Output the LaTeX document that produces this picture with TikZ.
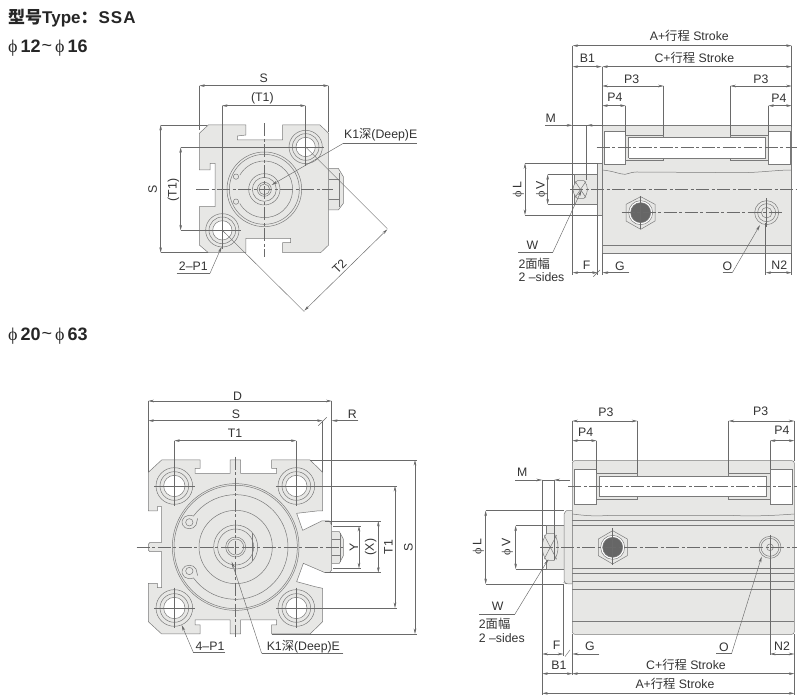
\documentclass[tikz,border=0pt]{standalone}
\usepackage{fontspec}
\setmainfont{Liberation Sans}
\newfontfamily\zhf{Noto Sans CJK SC}
\newfontfamily\phf{Liberation Serif}
\usetikzlibrary{arrows.meta}
\definecolor{ln}{HTML}{7A7A7A}
\definecolor{dl}{HTML}{6A6A6A}
\definecolor{bodyg}{HTML}{E7E7E5}
\definecolor{tx}{HTML}{333333}
\newcommand{\zh}[1]{{\zhf #1}}
\newcommand{\ph}{{\phf ϕ}}
\tikzset{
  thing/.style={draw=ln,line width=0.5pt},
  bodyf/.style={thing,fill=bodyg},
  whitef/.style={thing,fill=white},
  extl/.style={draw=dl,line width=0.4pt},
  diml/.style={draw=dl,line width=0.45pt,{Stealth[length=5.5pt,width=2.6pt]}-{Stealth[length=5.5pt,width=2.6pt]}},
  lead/.style={draw=dl,line width=0.45pt,-{Stealth[length=6pt,width=2.6pt]}},
  cline/.style={draw=dl,line width=0.4pt,dash pattern=on 13pt off 2.5pt on 3pt off 2.5pt},
  lab/.style={font=\fontsize{12.3}{14}\selectfont,text=tx,inner sep=0pt},
  lbl/.style={lab,rotate=90},
  head/.style={text=black!85,inner sep=0pt,anchor=west},
  z1/.style={shift={(130,60)},x=0.33333pt,y=-0.33333pt},
  z2/.style={shift={(500,20)},x=0.33333pt,y=-0.33333pt},
  z3/.style={shift={(130,385)},x=0.33333pt,y=-0.33333pt},
  z4/.style={shift={(470,400)},x=0.33333pt,y=-0.33333pt}
}
% mounting hole: centre, outer, mid, white radius
\newcommand{\mhole}[4]{
  \draw[thing] (#1) circle (#2);
  \draw[thing] (#1) circle (#3);
  \draw[whitef] (#1) circle (#4);
  \draw[extl] (#1) ++(-#2-6,0) -- ++(2*#2+12,0);
  \draw[extl] (#1) ++(0,-#2-6) -- ++(0,2*#2+12);
}
\newcommand{\sizelabel}[2]{{\fontsize{18}{18}\selectfont{\mdseries\ph}\kern3pt\bfseries #1\kern1pt\raisebox{0.5pt}{\mdseries\char`~}\kern3pt{\mdseries\ph}\kern3pt #2}}
\begin{document}
\begin{tikzpicture}[x=1pt,y=-1pt]
\useasboundingbox (0,0) rectangle (807,700);
\fill[white] (0,0) rectangle (807,700);
\node[head] (title) at (8,18) {\fontsize{17}{18}\bfseries\selectfont\zh{型号}Type\zh{：}\kern1pt S\kern1pt S\kern1pt A};
\node[head] (sizea) at (8,48) {\sizelabel{12}{16}};
\node[head] (sizeb) at (8,336) {\sizelabel{20}{63}};

%%%%%%%%%% top-left end view
\begin{scope}[z1]
\draw[bodyf] (596,325)--(625,325)--(640,350)--(640,430)--(625,450)--(596,450)--cycle;
\draw[thing] (596,358)--(628,358) (596,418)--(628,418) (628,340)--(628,440);
\draw[bodyf] (235,195)--(348,195)--(348,225)--(322,228)--(322,240)--(458,240)--(458,195)--(570,195)--(596,220)--(596,555)--(572,578)--(458,578)--(458,548)--(482,548)--(482,535)--(348,535)--(348,578)--(235,578)--(208,555)--(208,440)--(255,440)--(255,310)--(240,310)--(240,330)--(208,330)--(208,220)--cycle;
\mhole{527,261}{50}{40}{29}
\mhole{277,511}{50}{40}{29}
\draw[thing] (403,388) circle (112);
\draw[thing] (403,388) circle (105);
\draw[thing] (403,388) ++(150:85) arc (150:-150:85);
\draw[thing] (318,350) circle (8) (318,425) circle (8);
\draw[thing] (403,388) circle (47);
\draw[thing] (403,388) circle (36);
\draw[thing] (403,388) circle (21);
\draw[thing] (403,388) circle (16);
\draw[cline] (403,190)--(403,590);
\draw[cline] (198,388)--(610,388);
\draw[extl] (208,77)--(208,210) (596,77)--(596,215) (276,137)--(276,470) (527,137)--(527,315);
\draw[extl] (92,195)--(230,195) (92,578)--(235,578) (152,262)--(470,262) (152,511)--(330,511);
\draw[diml] (208,77)--(596,77);
\draw[diml] (276,137)--(527,137);
\draw[diml] (92,195)--(92,578);
\draw[diml] (152,262)--(152,511);
\draw[extl] (527,261)--(772,506) (277,511)--(523,755);
\draw[diml] (772,508)--(523,752);
\draw[extl] (860,250)--(640,250);
\draw[lead] (640,250)--(425,375);
\draw[extl] (140,640)--(240,640);
\draw[lead] (240,640)--(275,560);
\node[lab] (aS) at (401,54) {S};
\node[lab] (aT) at (397,115) {(T1)};
\node[lbl] (aSl) at (68,388) {S};
\node[lbl] (aTl) at (130,390) {(T1)};
\node[lab,rotate=45] (aT2) at (628,620) {T2};
\node[lab] (aK) at (752,225) {K1\zh{深}(Deep)E};
\node[lab] (aP) at (190,618) {2–P1};
\end{scope}

%%%%%%%%%% top-right side view
\begin{scope}[z2]
\draw[bodyf] (223,463) rectangle (293,553);
\draw[bodyf] (232,482) .. controls (214,500) and (214,516) .. (232,535) -- (252,535) .. controls (266,516) and (266,500) .. (252,482) -- cycle;
\draw[thing] (225,484)--(258,533) (258,484)--(225,533);
\draw[bodyf] (293,430) rectangle (307,585);
\draw[bodyf] (307,316) rectangle (875,700);
\draw[thing] (307,675)--(875,675);
\draw[whitef] (312,333) -- (376,333) -- (376,433) -- (312,433) -- cycle;
\draw[whitef] (805,333) -- (870,333) -- (870,433) -- (805,433) -- cycle;
\draw[bodyf] (376,345) rectangle (491,420);
\draw[bodyf] (691,345) rectangle (805,420);
\fill[white] (386,352) rectangle (797,415);
\draw[thing] (386,352)--(797,352) (386,415)--(797,415) (386,352)--(386,415) (797,352)--(797,415);
\draw[thing] (307,450) .. controls (340,453) and (360,463) .. (375,463) .. controls (385,463) and (390,456) .. (410,456) -- (720,458) .. controls (780,458) and (830,450) .. (875,450);
\draw[bodyf] (422,530) -- (465,553) -- (465,603) -- (422,628) -- (378,603) -- (378,553) -- cycle;
\draw[thing,fill=white] (422,578) circle (36);
\draw[thing,fill=black!60] (422,578) circle (30);
\draw[thing] (800,578) circle (36);
\draw[thing] (800,578) circle (27);
\draw[thing] (800,578) circle (16);
\draw[cline] (210,508)--(890,508);
\draw[cline] (290,382)--(890,382);
\draw[cline] (365,578)--(845,578);
\draw[extl] (422,528)--(422,628) (800,535)--(800,620);
% dimensions
\draw[extl] (218,77)--(218,765) (875,77)--(875,320) (307,140)--(307,320) (491,198)--(491,345) (691,198)--(691,345) (377,257)--(377,345) (805,257)--(805,345) (260,316)--(260,480);
\draw[diml] (218,77)--(875,77);
\draw[diml] (218,140)--(305,140);
\draw[diml] (307,140)--(875,140);
\draw[diml] (307,198)--(491,198);
\draw[diml] (691,198)--(875,198);
\draw[diml] (307,257)--(377,257);
\draw[diml] (805,257)--(875,257);
\draw[lead] (135,316)--(218,316);
\draw[lead] (287,316)--(260,316);
\draw[extl] (218,316)--(307,316);
\draw[extl] (75,430)--(293,430) (75,585)--(293,585) (143,463)--(223,463) (143,553)--(223,553);
\draw[diml] (75,430)--(75,585);
\draw[diml] (143,463)--(143,553);
\draw[extl] (55,698)--(158,698);
\draw[lead] (158,698)--(245,510);
\draw[extl] (293,585)--(293,765) (307,700)--(307,765) (875,700)--(875,765) (797,610)--(797,765);
\draw[diml] (218,758)--(293,758);
\draw[lead] (388,758)--(307,758);
\draw[diml] (797,758)--(875,758);
\draw[extl] (280,770)--(300,750);
\draw[extl] (668,758)--(697,758);
\draw[lead] (697,758)--(780,615);
\node[lab] (bA) at (568,47) {A+\zh{行程} Stroke};
\node[lab] (bC) at (583,113) {C+\zh{行程} Stroke};
\node[lab] (bB) at (262,115) {B1};
\node[lab] (bP3) at (395,177) {P3};
\node[lab] (bP3r) at (783,178) {P3};
\node[lab] (bP4) at (345,233) {P4};
\node[lab] (bP4r) at (837,235) {P4};
\node[lab] (bM) at (152,296) {M};
\node[lbl] (bL) at (55,508) {\ph\,L};
\node[lbl] (bV) at (125,508) {\ph\,V};
\node[lab] (bW) at (97,677) {W};
\node[lab,anchor=west] (bm) at (55,733) {2\zh{面幅}};
\node[lab,anchor=west] (bs) at (55,772) {2 –sides};
\node[lab] (bF) at (260,737) {F};
\node[lab] (bG) at (360,738) {G};
\node[lab] (bO) at (682,738) {O};
\node[lab] (bN) at (838,737) {N2};
\end{scope}

%%%%%%%%%% bottom-left end view
\begin{scope}[z3]
\draw[bodyf] (605,440) -- (628,440) -- (640,462) -- (640,512) -- (628,535) -- (605,535) -- cycle;
\draw[thing] (605,462)--(630,462) (605,512)--(630,512) (630,445)--(630,530);
\draw[bodyf] (95,225)--(210,225)--(210,250)--(195,250)--(195,265)--(300,265)--(300,225)--(332,225)--(332,265)--(440,265)--(440,250)--(425,250)--(425,225)--(540,225)--(578,262)--(578,378)--(560,378)--(500,385)--(518,436)--(575,408)--(598,408)--(605,420)--(605,555)--(598,563)--(585,563)--(520,535)--(500,590)--(555,605)--(578,610)--(578,710)--(540,747)--(425,747)--(425,720)--(440,720)--(440,705)--(332,705)--(332,747)--(300,747)--(300,705)--(195,705)--(195,720)--(210,720)--(210,747)--(95,747)--(55,710)--(55,595)--(82,595)--(82,608)--(95,608)--(95,500)--(60,500)--(55,495)--(55,478)--(60,472)--(95,472)--(95,365)--(82,365)--(82,378)--(55,378)--(55,262)--cycle;
\mhole{133,303}{55}{43}{32}
\mhole{499,303}{55}{43}{32}
\mhole{133,669}{55}{43}{32}
\mhole{499,669}{55}{43}{32}
\draw[thing] (317,486) circle (190);
\draw[thing] (317,486) circle (185);
\draw[thing] (317,486) ++(144:157) arc (144:-144:157);
\draw[thing] (317,486) circle (110);
\draw[thing] (178,412) circle (11) (178,558) circle (11);
\draw[thing] (190,393) .. controls (170,385) and (150,400) .. (158,420) .. controls (165,435) and (190,435) .. (198,420) -- (203,400);
\draw[thing] (190,579) .. controls (170,587) and (150,572) .. (158,552) .. controls (165,537) and (190,537) .. (198,552) -- (203,572);
\draw[thing] (317,486) circle (66);
\draw[thing] (317,486) circle (54);
\draw[thing] (367,445)--(367,527);
\draw[thing] (317,486) circle (30);
\draw[thing] (317,486) circle (24);
\draw[cline] (20,486)--(640,486);
\draw[cline] (317,215)--(317,755);
\draw[extl] (55,48)--(55,262) (605,48)--(605,420) (578,107)--(578,262) (133,167)--(133,250) (499,167)--(499,250);
\draw[diml] (55,48)--(605,48);
\draw[diml] (55,107)--(578,107);
\draw[lead] (685,107)--(605,107);
\draw[extl] (565,122)--(590,97);
\draw[diml] (133,167)--(499,167);
\draw[extl] (540,225)--(862,225) (425,747)--(862,747) (560,303)--(802,303) (560,669)--(802,669) (585,408)--(752,408) (585,563)--(752,563) (610,423)--(694,423) (610,550)--(694,550);
\draw[diml] (855,225)--(855,747);
\draw[diml] (795,303)--(795,669);
\draw[diml] (745,408)--(745,563);
\draw[diml] (687,423)--(687,550);
\draw[extl] (285,802)--(190,802);
\draw[lead] (190,802)--(155,720);
\draw[extl] (640,805)--(395,805);
\draw[lead] (395,805)--(305,530);
\node[lab] (cD) at (323,33) {D};
\node[lab] (cS) at (318,88) {S};
\node[lab] (cR) at (667,88) {R};
\node[lab] (cT) at (315,145) {T1};
\node[lbl] (cSr) at (835,486) {S};
\node[lbl] (cTr) at (775,486) {T1};
\node[lbl] (cX) at (722,486) {(X)};
\node[lbl] (cY) at (672,486) {Y};
\node[lab] (cP) at (240,785) {4–P1};
\node[lab] (cK) at (520,785) {K1\zh{深}(Deep)E};
\end{scope}

%%%%%%%%%% bottom-right side view
\begin{scope}[z4]
\draw[bodyf] (228,377) rectangle (282,507);
\draw[bodyf] (230,400) .. controls (212,425) and (212,458) .. (230,482) -- (252,482) .. controls (268,458) and (268,425) .. (252,400) -- cycle;
\draw[thing] (222,405)--(260,478) (260,405)--(222,478);
\draw[bodyf] (307,332) -- (290,332) [rounded corners=2pt] -- (282,336) -- (282,548) -- (290,552) [sharp corners] -- (307,552) -- cycle;
\draw[bodyf,rounded corners=2.5pt] (307,182) rectangle (973,703);
\draw[thing] (307,362)--(973,362) (307,377)--(973,377) (307,505)--(973,505) (307,520)--(973,520) (307,545)--(973,545) (307,568)--(973,568) (307,665)--(973,665);
\draw[whitef] (312,207) rectangle (380,313);
\draw[whitef] (900,207) rectangle (968,313);
\draw[bodyf] (380,220) rectangle (502,298);
\draw[bodyf] (776,220) rectangle (900,298);
\fill[white] (388,230) rectangle (890,288);
\draw[thing] (388,230)--(890,230) (388,288)--(890,288) (388,230)--(388,288) (890,230)--(890,288);
\draw[thing] (307,342) .. controls (340,346) and (370,350) .. (420,346) -- (780,346) .. controls (850,350) and (920,346) .. (973,342);
\draw[bodyf] (428,392) -- (472,417) -- (472,467) -- (428,492) -- (385,467) -- (385,417) -- cycle;
\draw[thing,fill=white] (428,442) circle (36);
\draw[thing,fill=black!60] (428,442) circle (30);
\draw[thing] (900,442) circle (33);
\draw[thing] (900,442) circle (27);
\draw[thing] (900,442) circle (10);
\draw[cline] (210,442)--(980,442);
\draw[cline] (295,259)--(980,259);
\draw[extl] (428,385)--(428,495);
\draw[extl] (900,405)--(900,765);
% dimensions
\draw[extl] (307,63)--(307,182) (502,63)--(502,220) (776,63)--(776,220) (973,63)--(973,182) (380,122)--(380,220) (900,122)--(900,207);
\draw[diml] (307,63)--(502,63);
\draw[diml] (776,63)--(973,63);
\draw[diml] (307,122)--(380,122);
\draw[diml] (900,122)--(973,122);
\draw[lead] (135,240)--(217,240);
\draw[lead] (300,240)--(252,240);
\draw[extl] (217,240)--(252,240) (217,240)--(217,885) (252,240)--(252,480);
\draw[extl] (47,332)--(282,332) (47,552)--(282,552) (137,377)--(228,377) (137,507)--(228,507);
\draw[diml] (47,332)--(47,552);
\draw[diml] (137,377)--(137,507);
\draw[extl] (28,642)--(135,642);
\draw[lead] (135,642)--(235,478);
\draw[extl] (280,552)--(280,768) (307,703)--(307,825) (973,703)--(973,885);
\draw[diml] (217,762)--(280,762);
\draw[lead] (388,762)--(307,762);
\draw[extl] (285,770)--(300,750);
\draw[diml] (900,762)--(973,762);
\draw[extl] (738,760)--(785,760);
\draw[lead] (785,760)--(875,470);
\draw[diml] (217,821)--(307,821);
\draw[diml] (307,821)--(973,821);
\draw[diml] (217,880)--(973,880);
\node[lab] (dP3) at (408,37) {P3};
\node[lab] (dP3r) at (872,35) {P3};
\node[lab] (dP4) at (347,97) {P4};
\node[lab] (dP4r) at (936,92) {P4};
\node[lab] (dM) at (157,217) {M};
\node[lbl] (dL) at (25,440) {\ph\,L};
\node[lbl] (dV) at (112,440) {\ph\,V};
\node[lab] (dW) at (83,620) {W};
\node[lab,anchor=west] (dm) at (26,673) {2\zh{面幅}};
\node[lab,anchor=west] (ds) at (26,714) {2 –sides};
\node[lab] (dF) at (260,735) {F};
\node[lab] (dG) at (360,740) {G};
\node[lab] (dO) at (762,743) {O};
\node[lab] (dN) at (936,738) {N2};
\node[lab] (dB) at (267,795) {B1};
\node[lab] (dC) at (648,795) {C+\zh{行程} Stroke};
\node[lab] (dA) at (615,852) {A+\zh{行程} Stroke};
\end{scope}
\end{tikzpicture}
\end{document}
